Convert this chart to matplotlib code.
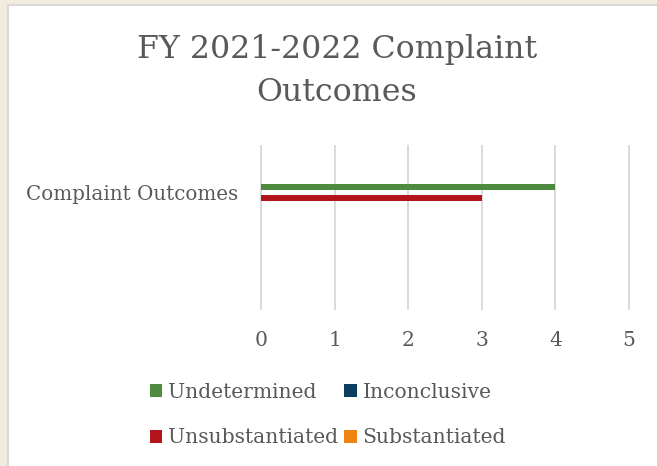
import matplotlib
matplotlib.use("Agg")
import matplotlib.pyplot as plt
from matplotlib.patches import Rectangle, Patch

# ---- data ----
category = "Complaint Outcomes"
series_names = ["Undetermined", "Inconclusive", "Unsubstantiated", "Substantiated"]
series_values = [4, 0, 3, 0]
series_colors = ["#4F8A41", "#0C3F5F", "#B3131A", "#F08410"]
series_offsets = [0.5, 1.5, -0.5, -1.5]   # slot offsets within the category cluster
x_ticks = [0, 1, 2, 3, 4, 5]
title = "FY 2021-2022 Complaint\nOutcomes"

W, H = 657, 466
fig = plt.figure(figsize=(W / 100, H / 100), dpi=100)
fig.patch.set_facecolor("#F2EBDF")
plt.rcParams["font.family"] = ["DejaVu Serif"]

# white chart area
fig.patches.append(Rectangle((7.5 / W, -0.01), 1.0, 1 - 4.5 / H + 0.01,
                             transform=fig.transFigure, facecolor="white",
                             edgecolor="#D9D9D9", linewidth=1.5, zorder=-10))

txt = "#595959"
px = lambda x: x / W
py = lambda y: 1 - y / H
FS = 14.6

ax = fig.add_axes([px(261), py(309), px(629) - px(261), py(146) - py(309)])
ax.set_zorder(2)
ax.set_facecolor("none")
for s in ax.spines.values():
    s.set_visible(False)

for name, val, col, off in zip(series_names, series_values, series_colors, series_offsets):
    ax.barh(off, val, height=0.545, color=col, label=name, zorder=3)

ax.set_xlim(x_ticks[0], x_ticks[-1])
ax.set_ylim(-116.5 / 11, 46.5 / 11)
ax.set_xticks(x_ticks)
ax.set_xticklabels([str(t) for t in x_ticks], fontsize=FS, color=txt)
ax.tick_params(axis="x", length=0, pad=16)
ax.set_yticks([0])
ax.set_yticklabels([category], fontsize=14.3, color=txt)
ax.tick_params(axis="y", length=0, pad=16.5)
ax.grid(axis="x", color="#DADADA", linewidth=1.4, zorder=0)
for gl in ax.get_xgridlines():
    gl.set_clip_on(False)
ax.set_axisbelow(True)

fig.text(px(337), py(71), title, ha="center", va="center", fontsize=22.8,
         color=txt, linespacing=1.49)

handles = [Patch(facecolor=c, edgecolor="none") for c in series_colors]
order = [0, 2, 1, 3]
fig.legend([handles[i] for i in order], [series_names[i] for i in order],
           ncol=2, loc="upper left", bbox_to_anchor=(px(150), py(383)),
           frameon=False, fontsize=FS, handlelength=0.6, handleheight=0.6,
           handletextpad=0.3, columnspacing=0.3, labelspacing=1.3,
           borderpad=0, borderaxespad=0, labelcolor=txt)

fig.savefig("out.png", dpi=100, facecolor=fig.get_facecolor())
